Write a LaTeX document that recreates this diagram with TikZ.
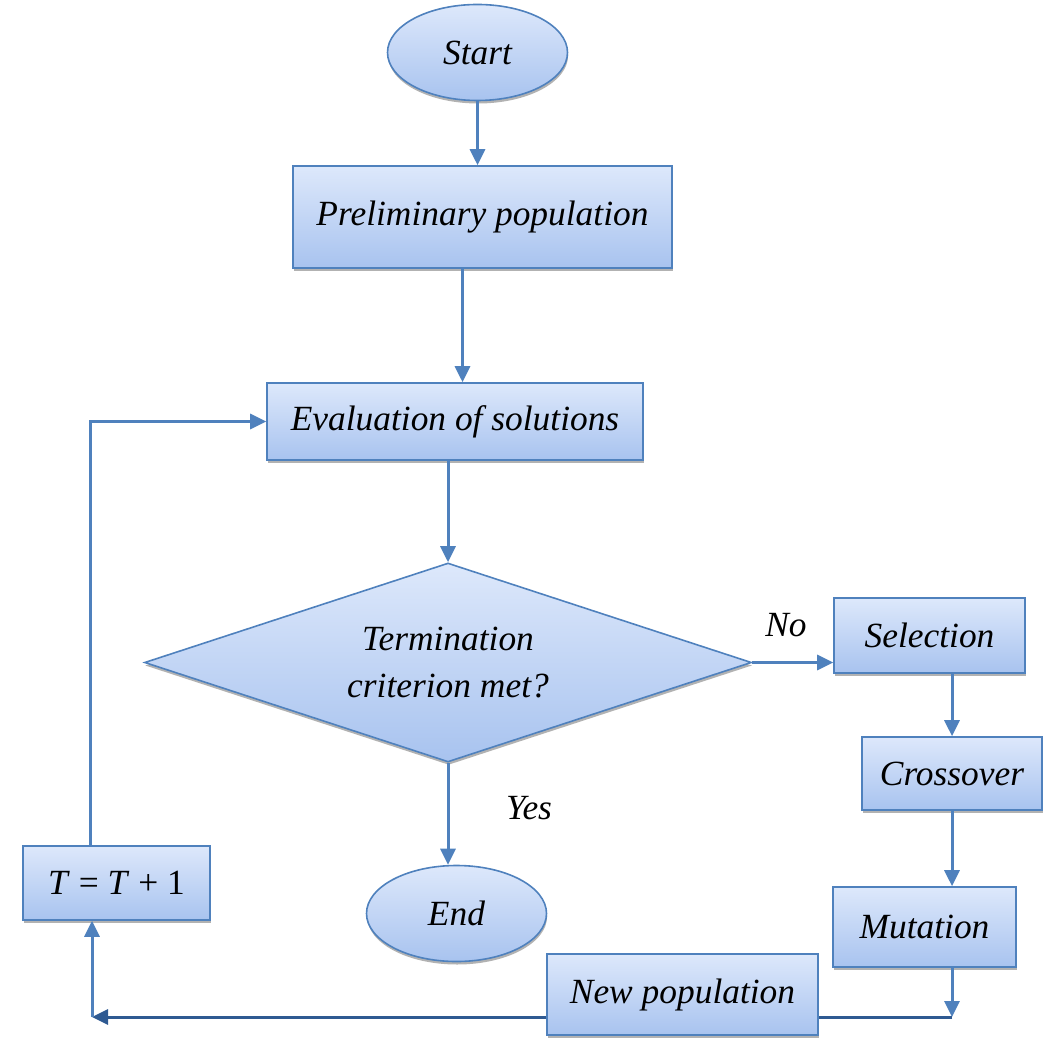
\documentclass[tikz,border=0pt]{standalone}
\usepackage{fontspec}
\setmainfont{Liberation Serif}
\usetikzlibrary{shapes.geometric,arrows.meta,shadows}
\definecolor{rand}{HTML}{4F81BD}
\definecolor{oben}{HTML}{DDE8FB}
\definecolor{unten}{HTML}{A8C3EF}
\definecolor{dunkel}{HTML}{2F5A92}
\begin{document}
\begin{tikzpicture}[x=0.5pt,y=-0.5pt,
		feld/.style={draw=rand,thick,top color=oben,bottom color=unten,
			drop shadow={shadow xshift=0.3pt,shadow yshift=-1.5pt,fill=black!60},
			inner sep=0pt,font=\itshape\fontsize{17.7}{23.5}\selectfont,align=center},
		kasten/.style={feld,rectangle},
		oval/.style={feld,ellipse,minimum width=90pt,minimum height=48pt},
		pfeil/.style={draw=rand,line width=1.5pt,-{Triangle[length=8pt,width=7.5pt]}},
		beschriftung/.style={font=\itshape\fontsize{17.7}{23.5}\selectfont}]
		\useasboundingbox (0,0) rectangle (1043,1052);
		% Knoten
		\node[oval] (start) at (477.5,52.5) {Start};
		\node[kasten,minimum width=189.5pt,minimum height=51pt] (prelim) at (482.5,217) {Preliminary population};
		\node[kasten,minimum width=188pt,minimum height=38.5pt] (eval) at (455,421.5) {Evaluation of solutions};
		\node[feld,diamond,shape aspect=3.05,minimum width=303.5pt,minimum height=99.5pt] (frage) at (448,662.5) {Termination\\criterion met?};
		\node[oval] (ende) at (456.5,913.5) {End};
		\node[kasten,minimum width=95.5pt,minimum height=37.5pt] (sel) at (929.5,635.5) {Selection};
		\node[kasten,minimum width=90pt,minimum height=36.5pt] (cross) at (952,773.5) {Crossover};
		\node[kasten,minimum width=91.5pt,minimum height=40pt] (mut) at (924.5,927) {Mutation};
		\node[kasten,minimum width=135.5pt,minimum height=40.5pt] (newpop) at (682.5,994.5) {New population};
		\node[kasten,minimum width=93.5pt,minimum height=37pt,font=\fontsize{17.7}{23.5}\selectfont] (tbox) at (116.5,883) {\textit{T} = \textit{T} + 1};
		\coordinate (knick) at (952,1017);
		\coordinate (ecke) at (92,1017);
		% Beschriftungen
		\node[beschriftung] (no) at (786,625) {No};
		\node[beschriftung] (yes) at (529,808) {Yes};
		% Pfeile
		\draw[pfeil] (start.south) -- (start.south |- prelim.north);
		\draw[pfeil] ([xshift=-10pt]prelim.south) -- ([xshift=-10pt]prelim.south |- eval.north);
		\draw[pfeil] (eval.south -| frage.north) -- (frage.north);
		\draw[pfeil] (frage.south) -- (frage.south |- ende.north);
		\draw[pfeil] (frage.east) -- (frage.east -| sel.west);
		\draw[pfeil] (sel.south -| cross.north) -- (cross.north);
		\draw[pfeil] (cross.south) -- (cross.south |- mut.north);
		\draw[pfeil] (cross.south |- mut.south) -- (knick);
		% Rueckfuehrung
		\draw[draw=dunkel,line width=1.5pt] (knick) -- (knick -| newpop.east);
		\draw[draw=dunkel,line width=1.5pt,-{Triangle[length=8pt,width=7.5pt]}] (newpop.west |- knick) -- (ecke);
		\draw[pfeil] (ecke) -- (ecke |- tbox.south);
		\draw[pfeil] ([xshift=-1pt]ecke |- tbox.north) |- (eval.west);
	\end{tikzpicture}
\end{document}
